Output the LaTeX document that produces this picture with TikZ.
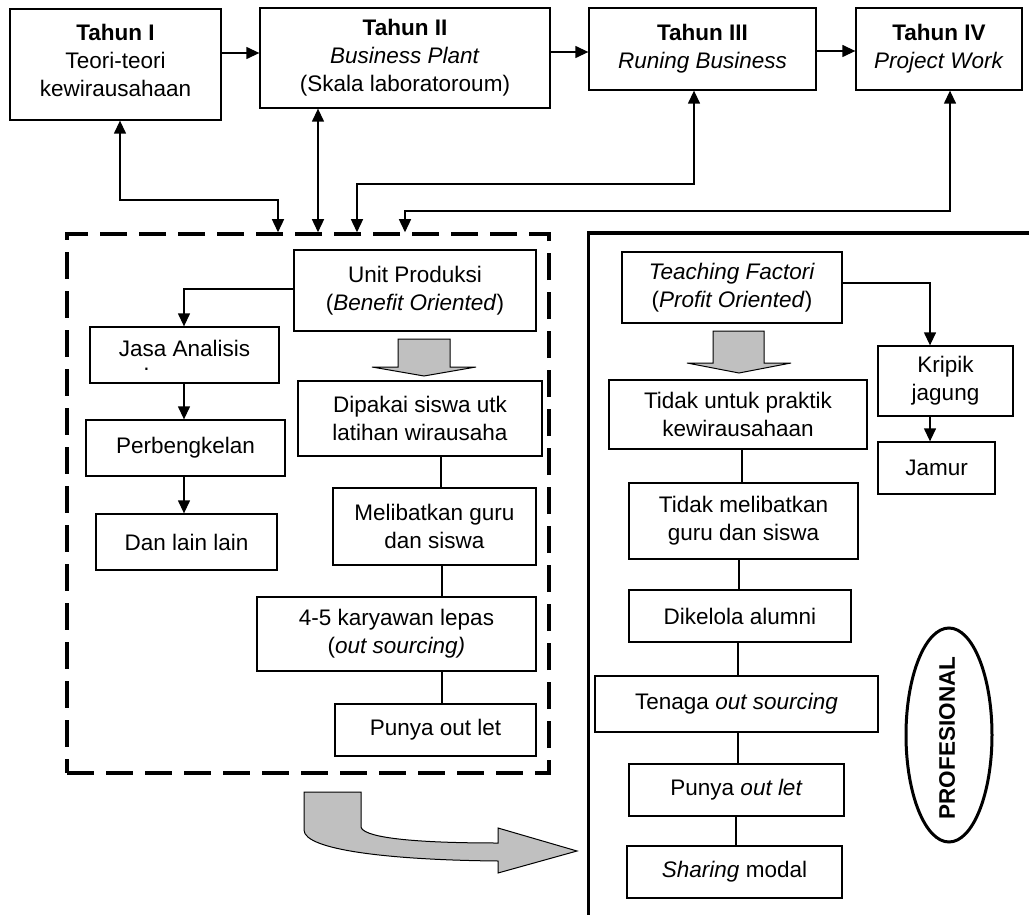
\documentclass[tikz,border=0pt]{standalone}
\usepackage{fontspec}
\setmainfont{Liberation Sans}
\usetikzlibrary{arrows.meta,shapes.geometric}
\definecolor{fatgray}{RGB}{192,192,192}
\begin{document}
\begin{tikzpicture}[x=1pt,y=-1pt,
  bx/.style={draw, line width=1.3pt, align=center, inner sep=0pt, font=\fontsize{22.5}{28}\selectfont},
  txt/.style={inner sep=0pt, font=\fontsize{22.5}{28}\selectfont},
  con/.style={line width=1.3pt},
  arr/.style={con, -{Triangle[length=13pt,width=12pt]}},
  darr/.style={con, {Triangle[length=13pt,width=12pt]}-{Triangle[length=13pt,width=12pt]}},
  fat/.style={draw, line width=1pt, fill=fatgray},
]
\useasboundingbox[fill=white] (0,0) rectangle (1029,915);

% top row
\node[bx, minimum width=211pt, minimum height=111pt] (t1) at (115.5,64.5) {\textbf{Tahun I}\\Teori-teori\\kewirausahaan\rule[-8pt]{0pt}{8pt}};
\node[bx, minimum width=290pt, minimum height=100pt] (t2) at (405,58) {\textbf{Tahun II}\\\textit{Business Plant}\\(Skala laboratoroum)};
\node[bx, minimum width=227pt, minimum height=82pt] (t3) at (702.5,49) {\textbf{Tahun III}\\\textit{Runing Business}\rule[-6pt]{0pt}{6pt}};
\node[bx, minimum width=166pt, minimum height=82pt] (t4) at (939,49) {\textbf{Tahun IV}\\\textit{Project Work}\rule[-6pt]{0pt}{6pt}};

\draw[arr] (t1.east |- 0,53) -- (t2.west |- 0,53);
\draw[arr] (t2.east |- 0,52) -- (t3.west |- 0,52);
\draw[arr] (t3.east |- 0,51) -- (t4.west |- 0,51);

% left dashed frame
\node[draw, dash pattern=on 27pt off 12pt, line width=3.5pt, minimum width=482pt, minimum height=539pt, inner sep=0pt] (lbox) at (308,503.5) {};

% right solid frame
\draw[line width=3pt] (1029,233) -- (588,233) -- (588,915);

% connectors from top boxes
\draw[darr] (t1.south -| 120,0) -- (120,200) -| (lbox.north -| 278,0);
\draw[darr] (t2.south -| 318,0) -- (lbox.north -| 318,0);
\draw[darr] (t3.south -| 694,0) -- (694,184) -| (lbox.north -| 357,0);
\draw[darr] (t4.south -| 950,0) -- (950,211) -| (lbox.north -| 405,0);

% left content
\node[bx, minimum width=242pt, minimum height=81pt] (unit) at (415,290.5) {Unit Produksi\\(\textit{Benefit Oriented})};
\node[bx, minimum width=189pt, minimum height=56pt] (jasa) at (184.5,355) {Jasa Analisis\\[-14pt]\hspace*{-76pt}.};
\node[bx, minimum width=199pt, minimum height=56pt] (perb) at (185.5,448) {Perbengkelan};
\node[bx, minimum width=181pt, minimum height=56pt] (dan) at (186.5,542) {Dan lain lain};
\node[bx, minimum width=244pt, minimum height=75pt] (dip) at (420,418.5) {Dipakai siswa utk\\latihan wirausaha};
\node[bx, minimum width=203pt, minimum height=77pt] (mel) at (434.5,526.5) {Melibatkan guru\\dan siswa};
\node[bx, minimum width=279pt, minimum height=74pt] (kar) at (396.5,634) {4-5 karyawan lepas\\(\textit{out sourcing)}};
\node[bx, minimum width=201pt, minimum height=52pt] (pun) at (435.5,730) {Punya out let};

\draw[arr] (unit.west |- 0,289) -| (jasa.north -| 184,0);
\draw[arr] (jasa.south -| 184,0) -- (perb.north -| 184,0);
\draw[arr] (perb.south -| 184,0) -- (dan.north -| 184,0);
\draw[con] (dip.south -| 441,0) -- (mel.north -| 441,0);
\draw[con] (mel.south -| 442,0) -- (kar.north -| 442,0);
\draw[con] (kar.south -| 442,0) -- (pun.north -| 442,0);

\draw[fat] (398,339) -- (450,339) -- (450,367) -- (476,367) -- (424,376) -- (372,367) -- (398,367) -- cycle;

% right content
\node[bx, minimum width=220pt, minimum height=71pt] (tf) at (732,287.5) {\textit{Teaching Factori}\\(\textit{Profit Oriented})};
\node[bx, minimum width=258pt, minimum height=69pt] (tu) at (738,414.5) {Tidak untuk praktik\\kewirausahaan};
\node[bx, minimum width=229pt, minimum height=76pt] (tm) at (743.5,521) {Tidak melibatkan\\guru dan siswa};
\node[bx, minimum width=222pt, minimum height=52pt] (dk) at (740,616) {Dikelola alumni};
\node[bx, minimum width=283pt, minimum height=56pt] (tn) at (736.5,704) {Tenaga \textit{out sourcing}};
\node[bx, minimum width=215pt, minimum height=52pt] (po) at (736.5,790) {Punya \textit{out let}};
\node[bx, minimum width=215pt, minimum height=52pt] (sh) at (734.5,872) {\textit{Sharing} modal};
\node[bx, minimum width=135pt, minimum height=70pt] (kr) at (945.5,381) {Kripik\\jagung};
\node[bx, minimum width=117pt, minimum height=52pt] (ja) at (936.5,468) {Jamur};

\draw[arr] (tf.east |- 0,283) -| (kr.north -| 930,0);
\draw[arr] (kr.south -| 930,0) -- (ja.north -| 930,0);
\draw[con] (tu.south -| 742,0) -- (tm.north -| 742,0);
\draw[con] (tm.south -| 739,0) -- (dk.north -| 739,0);
\draw[con] (dk.south -| 738,0) -- (tn.north -| 738,0);
\draw[con] (tn.south -| 738,0) -- (po.north -| 738,0);
\draw[con] (po.south -| 736,0) -- (sh.north -| 736,0);

\draw[fat] (713,331) -- (764,331) -- (764,363) -- (791,363) -- (739,373) -- (687,363) -- (713,363) -- cycle;

% ellipse
\node[draw, ellipse, line width=3pt, minimum width=86pt, minimum height=214pt, inner sep=0pt] (prof) at (949,735) {};
\node[txt, rotate=90, font=\fontsize{22.5}{28}\selectfont\bfseries] (proft) at (947,738) {PROFESIONAL};

% curved block arrow
\draw[fat] (304,792) -- (361,792) -- (361,827) .. controls (363,836) and (400,843) .. (498,843) -- (498,828) -- (577,851) -- (498,873) -- (498,861) .. controls (390,860) and (304,850) .. (304,830) -- cycle;
\end{tikzpicture}
\end{document}
